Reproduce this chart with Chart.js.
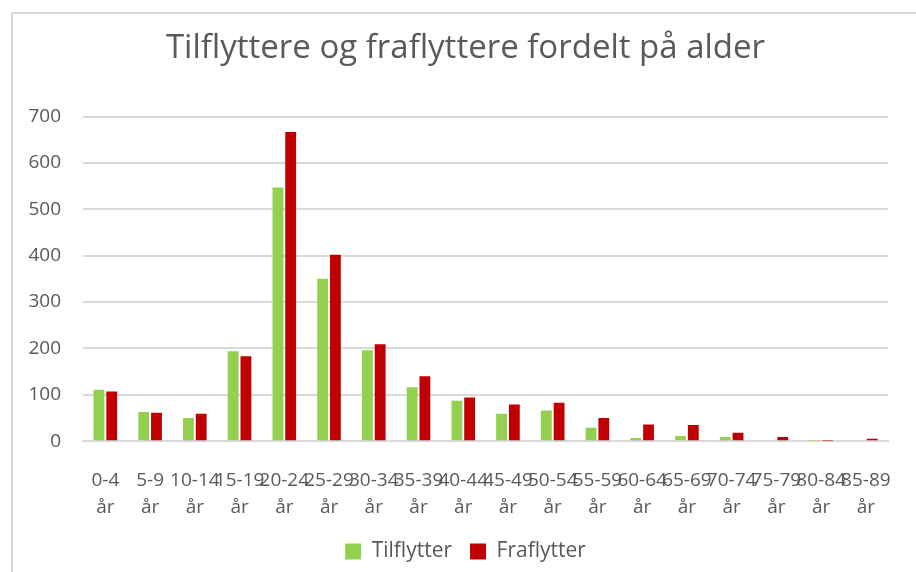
<!DOCTYPE html>
<html>
<head>
<meta charset="utf-8">
<script src="https://cdn.jsdelivr.net/npm/chart.js@4"></script>
<style>
  html, body { margin: 0; padding: 0; background: #fff; overflow: hidden; }
  #wrap { position: relative; width: 916px; height: 572px; }
  #frame { position: absolute; left: 11px; top: 12px; width: 1000px; height: 1000px;
           border-left: 2px solid #d9d9d9; border-top: 2px solid #d9d9d9; pointer-events: none; }
</style>
</head>
<body>
<div id="wrap">
  <canvas id="myChart" width="916" height="572"></canvas>
  <div id="frame"></div>
</div>
<script>
const ageGroups = ["0-4", "5-9", "10-14", "15-19", "20-24", "25-29", "30-34", "35-39", "40-44",
                   "45-49", "50-54", "55-59", "60-64", "65-69", "70-74", "75-79", "80-84", "85-89"];
const tilflytter = [111, 63, 50, 194, 547, 350, 196, 116, 87, 59, 66, 29, 7, 11, 9, 2, 1, 0];
const fraflytter = [107, 61, 59, 183, 667, 402, 209, 140, 94, 79, 83, 50, 36, 35, 18, 9, 1, 5];
const yTicks = [0, 100, 200, 300, 400, 500, 600, 700];

const textColor = "#595959";
const fontFamily = "'Open Sans', 'Noto Sans', sans-serif";

const labels = ageGroups.map(a => [a, "år"]);

new Chart("myChart", {
    type: "bar",
    data: {
        labels: labels,
        datasets: [{
            label: "Tilflytter",
            data: tilflytter,
            backgroundColor: "#92d050"
        }, {
            label: "Fraflytter",
            data: fraflytter,
            backgroundColor: "#c00000"
        }]
    },
    options: {
        responsive: false,
        animation: false,
        categoryPercentage: 0.57,
        barPercentage: 0.85,
        layout: { padding: { left: 28, right: 13, top: 0, bottom: 0 } },
        plugins: {
            title: {
                display: true,
                text: "Tilflyttere og fraflyttere fordelt på alder",
                color: textColor,
                font: { family: fontFamily, size: 33, weight: "normal" },
                padding: { top: 29, bottom: 48 }
            },
            legend: {
                position: "bottom",
                labels: {
                    color: textColor,
                    font: { family: fontFamily, size: 21 },
                    boxWidth: 16,
                    boxHeight: 16,
                    padding: 18
                }
            },
            tooltip: { enabled: false }
        },
        scales: {
            x: {
                afterFit: scale => { scale.height = scale.height - 24; },
                grid: { display: false, drawTicks: false },
                border: { display: true, color: "#d9d9d9", width: 2 },
                ticks: {
                    color: textColor,
                    font: { family: fontFamily, size: 19, lineHeight: 1.47 },
                    autoSkip: false,
                    maxRotation: 0,
                    minRotation: 0,
                    padding: 25
                }
            },
            y: {
                min: 0,
                max: 700,
                afterBuildTicks: scale => { scale.ticks = yTicks.map(v => ({ value: v })); },
                afterFit: scale => { scale.width = 55; },
                grid: { color: "#d9d9d9", lineWidth: 2, drawTicks: false },
                border: { display: false },
                ticks: {
                    color: textColor,
                    font: { family: fontFamily, size: 19 },
                    padding: 22
                }
            }
        }
    }
});
</script>
</body>
</html>
